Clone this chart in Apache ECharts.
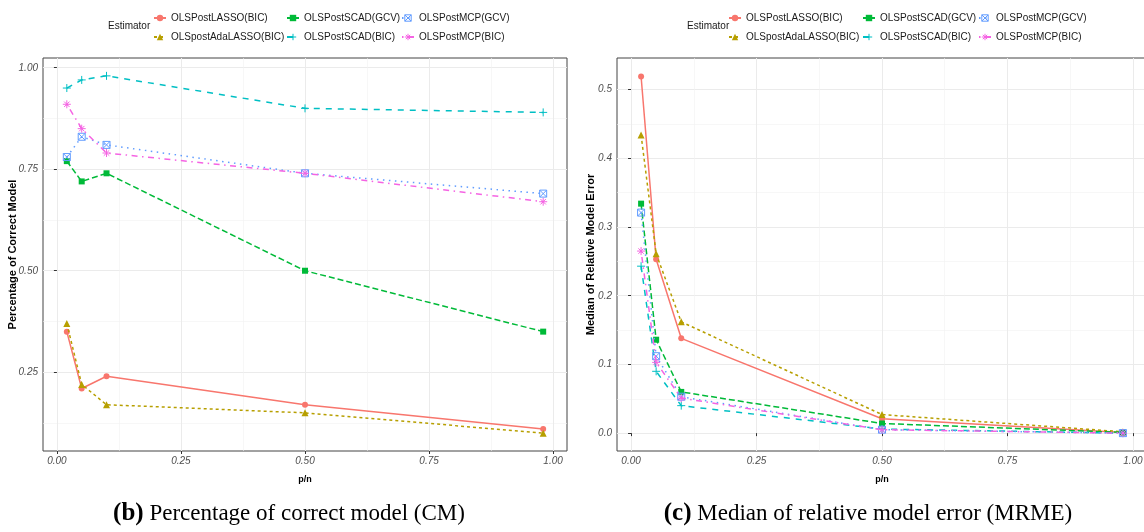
<!DOCTYPE html>
<html><head><meta charset="utf-8">
<script src="https://cdn.jsdelivr.net/npm/echarts@6/dist/echarts.min.js"></script>
<style>html,body{margin:0;padding:0;background:#fff}#c{width:1144px;height:532px}</style>
</head><body><div id="c"></div>
<script>
// ---- data ----
const estimators = ['OLSPostLASSO(BIC)','OLSpostAdaLASSO(BIC)','OLSPostSCAD(GCV)','OLSPostSCAD(BIC)','OLSPostMCP(GCV)','OLSPostMCP(BIC)'];
const pn = [0.02, 0.05, 0.10, 0.50, 0.98];
// Percentage of correct model (CM)
const cmLASSO    = [0.35, 0.21, 0.24, 0.17, 0.11];
const cmAdaLASSO = [0.37, 0.22, 0.17, 0.15, 0.10];
const cmSCADgcv  = [0.77, 0.72, 0.74, 0.50, 0.35];
const cmSCADbic  = [0.95, 0.97, 0.98, 0.90, 0.89];
const cmMCPgcv   = [0.78, 0.83, 0.81, 0.74, 0.69];
const cmMCPbic   = [0.91, 0.85, 0.79, 0.74, 0.67];
// Median of relative model error (MRME)
const mrLASSO    = [0.519, 0.253, 0.138, 0.021, 0.001];
const mrAdaLASSO = [0.434, 0.261, 0.162, 0.027, 0.002];
const mrSCADgcv  = [0.334, 0.136, 0.060, 0.014, 0.001];
const mrSCADbic  = [0.243, 0.090, 0.040, 0.006, 0.000];
const mrMCPgcv   = [0.321, 0.112, 0.053, 0.005, 0.000];
const mrMCPbic   = [0.265, 0.103, 0.051, 0.005, 0.000];
// ticks
const xTicks = [0, 0.25, 0.5, 0.75, 1];
const xMinor = [0.125, 0.375, 0.625, 0.875];
const cmTicks = [0.25, 0.5, 0.75, 1];
const cmMinor = [0.125, 0.375, 0.625, 0.875];
const mrTicks = [0, 0.1, 0.2, 0.3, 0.4, 0.5];
const mrMinor = [0.05, 0.15, 0.25, 0.35, 0.45];

const cmData = [cmLASSO, cmAdaLASSO, cmSCADgcv, cmSCADbic, cmMCPgcv, cmMCPbic];
const mrData = [mrLASSO, mrAdaLASSO, mrSCADgcv, mrSCADbic, mrMCPgcv, mrMCPbic];

// ---- styles ----
const colors = ['#F8766D','#B79F00','#00BA38','#00BFC4','#619CFF','#F564E3'];
const dashes = ['solid',[3,3],[6,3],[6,6],[1.5,4.5],[1.5,4.5,6,4.5]];
const symbols = ['circle','triangle','rect',
  'path://M5,0L5,10M0,5L10,5',
  'path://M0,0L10,0L10,10L0,10ZM0,0L10,10M10,0L0,10',
  'path://M5,0L5,10M0,5L10,5M1.6,1.6L8.4,8.4M8.4,1.6L1.6,8.4'];
const symSizes = [6, 7, 6, 8, 7, 8];
const filled = [true, true, true, false, false, false];

const FONT = 'Liberation Sans, Arial, sans-serif';
const gridLeft = [43, 617], gridW = [524, 530];

function mainX(gi){
  return {gridIndex: gi, type:'value', min:-0.028, max:1.028,
    axisLine:{show:false},
    axisTick:{show:true, length:3, lineStyle:{color:'#333', width:1}, customValues: xTicks},
    axisLabel:{customValues: xTicks, formatter: v => v.toFixed(2), fontSize:10, fontStyle:'italic', color:'#4D4D4D', margin:5, fontFamily: FONT},
    splitLine:{show:true, lineStyle:{color:'#EBEBEB', width:1}},
    name:'p/n', nameLocation:'middle', nameGap:24, nameMoveOverlap:false,
    nameTextStyle:{fontWeight:'bold', fontSize:9, color:'#000', fontFamily: FONT}};
}
function minorX(gi){
  return {gridIndex: gi, type:'value', min:-0.028, max:1.028, position:'top',
    axisLine:{show:false}, axisTick:{show:false, customValues: xMinor}, axisLabel:{show:false},
    splitLine:{show:true, lineStyle:{color:'#F2F2F2', width:0.6}}};
}
function mainY(gi, mn, mx, ticks, dec, name, gap){
  return {gridIndex: gi, type:'value', min:mn, max:mx,
    axisLine:{show:false},
    axisTick:{show:true, length:3, lineStyle:{color:'#333', width:1}, customValues: ticks},
    axisLabel:{customValues: ticks, formatter: v => v.toFixed(dec), fontSize:10, fontStyle:'italic', color:'#4D4D4D', margin:5, fontFamily: FONT},
    splitLine:{show:true, lineStyle:{color:'#EBEBEB', width:1}},
    name:name, nameLocation:'middle', nameGap:gap, nameMoveOverlap:false,
    nameTextStyle:{fontWeight:'bold', fontSize:11, color:'#000', fontFamily: FONT}};
}
function minorY(gi, mn, mx, ticks){
  return {gridIndex: gi, type:'value', min:mn, max:mx, position:'right',
    axisLine:{show:false}, axisTick:{show:false, customValues: ticks}, axisLabel:{show:false},
    splitLine:{show:true, lineStyle:{color:'#F2F2F2', width:0.6}}};
}

const series = [];
[cmData, mrData].forEach((set, c) => {
  set.forEach((vals, i) => {
    series.push({
      type:'line', name: estimators[i], xAxisIndex: c*2, yAxisIndex: c*2,
      data: pn.map((x, k) => [x, vals[k]]),
      symbol: symbols[i], symbolSize: symSizes[i], showSymbol:true,
      lineStyle:{color: colors[i], width:1.5, type: dashes[i]},
      itemStyle:{color: filled[i] ? colors[i] : 'rgba(0,0,0,0)', borderColor: colors[i], borderWidth: filled[i] ? 0 : 1},
      emphasis:{disabled:true}, z: 2 + i, animation:false
    });
  });
});

function legendItem(i){
  return filled[i] ? {name: estimators[i]} :
    {name: estimators[i], itemStyle:{color:'rgba(0,0,0,0)', borderColor: colors[i], borderWidth:1}};
}
function legend(left, idx){
  return {orient:'vertical', left: left, top: 12, padding: 0, itemGap: 7,
    itemWidth: 12, itemHeight: 8, data: idx.map(legendItem), selectedMode: false,
    textStyle:{fontSize:10, color:'#1A1A1A', lineHeight:12, fontFamily: FONT}};
}

const capFont = '23px Liberation Serif, serif';
const capRich = {b:{fontFamily:'Liberation Serif', fontSize:25, fontWeight:'bold', fill:'#000'}};

const option = {
  animation: false,
  textStyle: {fontFamily: FONT},
  grid: [0,1].map(g => ({left: gridLeft[g], top: 58, width: gridW[g], height: 393,
    show: true, borderColor:'#444', borderWidth:1, backgroundColor:'#fff', containLabel:false, outerBoundsMode:'none'})),
  xAxis: [mainX(0), minorX(0), mainX(1), minorX(1)],
  yAxis: [mainY(0, 0.056, 1.024, cmTicks, 2, 'Percentage of Correct Model', 25), minorY(0, 0.056, 1.024, cmMinor),
          mainY(1, -0.026, 0.546, mrTicks, 1, 'Median of Relative Model Error', 21), minorY(1, -0.026, 0.546, mrMinor)],
  legend: [
    legend(153, [0, 1]),
    legend(286, [2, 3]),
    legend(401, [4, 5]),
    legend(728, [0, 1]),
    legend(862, [2, 3]),
    legend(978, [4, 5])
  ],
  graphic: [
    {type:'text', left:108, top:21, style:{text:'Estimator', font:'10px ' + FONT, fill:'#1A1A1A'}},
    {type:'text', left:687, top:21, style:{text:'Estimator', font:'10px ' + FONT, fill:'#1A1A1A'}},
    {type:'text', x:289, y:514, style:{text:'{b|(b)} Percentage of correct model (CM)', font: capFont, fill:'#000', align:'center', verticalAlign:'middle', rich: capRich}},
    {type:'text', x:868, y:514, style:{text:'{b|(c)} Median of relative model error (MRME)', font: capFont, fill:'#000', align:'center', verticalAlign:'middle', rich: capRich}}
  ],
  series: series
};

const chart = echarts.init(document.getElementById('c'), null, {renderer:'canvas'});
chart.setOption(option);
</script>
</body></html>
